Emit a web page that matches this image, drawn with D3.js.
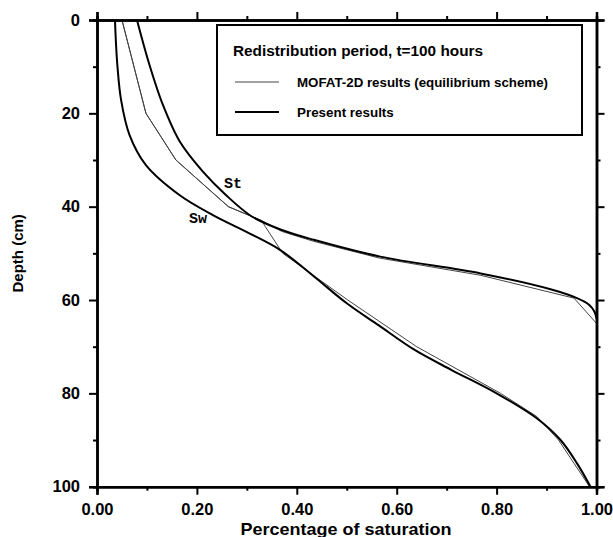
<!DOCTYPE html>
<html><head><meta charset="utf-8">
<script src="https://cdn.jsdelivr.net/npm/d3@7"></script>
<style>body{margin:0;background:#fff}svg{display:block}</style>
</head><body>
<svg id="chart" width="613" height="537"></svg>
<script>
// Data: [depth (cm), saturation]
const presentSw = [[0,0.036],[5,0.038],[10,0.041],[17,0.048],[24.6,0.065],[31.1,0.098],[37.5,0.165],[41.8,0.232],[45.7,0.305],[49.3,0.367],[55,0.435],[60.7,0.50],[65.5,0.565],[70.7,0.636],[75,0.71],[80,0.80],[85.4,0.881],[90,0.928],[95,0.961],[100,0.988]];
const presentSt = [[0,0.08],[9.6,0.105],[18.2,0.132],[26.1,0.166],[32.5,0.212],[37.5,0.258],[42.1,0.31],[45,0.37],[47.1,0.434],[50.7,0.567],[54.3,0.768],[57.7,0.908],[59.6,0.961],[61,0.985],[62.5,0.996],[64,1.0]];
const mofatSt = [[0,0.05],[20,0.098],[30,0.158],[40,0.263],[43,0.33],[45.3,0.37],[47.4,0.433],[51,0.565],[54.7,0.768],[59.6,0.955],[65,1.0]];
const mofatSw = [[0,0.05],[20,0.098],[30,0.158],[40,0.263],[43,0.33],[44.3,0.337],[50,0.372],[60,0.502],[70,0.64],[80,0.808],[85,0.881],[90,0.924],[95,0.955],[100,0.986]];
const xTicks = [0,0.2,0.4,0.6,0.8,1.0];
const xMinor = [0.1,0.3,0.5,0.7,0.9];
const yTicks = [0,20,40,60,80,100];
const yMinor = [10,30,50,70,90];
const legendTitle = "Redistribution period, t=100 hours";
const legendItems = ["MOFAT-2D results (equilibrium scheme)","Present results"];

const svg = d3.select("#chart");
const L=97, R=596.5, T=20, B=486.7;
const x = d3.scaleLinear().domain([0,1]).range([L,R]);
const y = d3.scaleLinear().domain([0,100]).range([T,B]);
const font = "'Liberation Sans', Arial, sans-serif";

// curves
const smooth = d3.line().x(d=>x(d[1])).y(d=>y(d[0])).curve(d3.curveCatmullRom.alpha(0.5));
const straight = d3.line().x(d=>x(d[1])).y(d=>y(d[0]));
const g = svg.append("g");
[mofatSt, mofatSw].forEach(s=>g.append("path").attr("d",straight(s)).attr("fill","none").attr("stroke","#444").attr("stroke-width",1));
[presentSt, presentSw].forEach(s=>g.append("path").attr("d",smooth(s)).attr("fill","none").attr("stroke","#000").attr("stroke-width",2));

// axes
function ax(gen, tr){ return svg.append("g").attr("transform",tr).call(gen); }
ax(d3.axisBottom(x).tickValues(xTicks).tickFormat(d3.format(".2f")).tickSize(8).tickPadding(9), `translate(0,${B})`);
ax(d3.axisBottom(x).tickValues(xMinor).tickFormat("").tickSize(4), `translate(0,${B})`);
ax(d3.axisTop(x).tickValues(xTicks).tickFormat("").tickSize(8), `translate(0,${T})`);
ax(d3.axisTop(x).tickValues(xMinor).tickFormat("").tickSize(4), `translate(0,${T})`);
ax(d3.axisLeft(y).tickValues(yTicks).tickFormat(d3.format("d")).tickSize(8).tickPadding(9), `translate(${L},0)`);
ax(d3.axisLeft(y).tickValues(yMinor).tickFormat("").tickSize(4), `translate(${L},0)`);
ax(d3.axisRight(y).tickValues(yTicks).tickFormat("").tickSize(8), `translate(${R},0)`);
ax(d3.axisRight(y).tickValues(yMinor).tickFormat("").tickSize(4), `translate(${R},0)`);
svg.selectAll(".domain").attr("stroke","#000").attr("stroke-width",2.5);
svg.selectAll(".tick line").attr("stroke","#000").attr("stroke-width",2);
svg.selectAll(".tick text").attr("font-family",font).attr("font-weight","bold").attr("font-size",16.5).attr("fill","#000");

// axis titles
svg.append("text").attr("x",346).attr("y",535).attr("text-anchor","middle")
  .attr("font-family",font).attr("font-weight","bold").attr("font-size",16.5)
  .attr("textLength",211).attr("lengthAdjust","spacingAndGlyphs").text("Percentage of saturation");
svg.append("text").attr("transform",`translate(23,${(T+B)/2}) rotate(-90)`).attr("text-anchor","middle")
  .attr("font-family",font).attr("font-weight","bold").attr("font-size",15).text("Depth (cm)");

// legend
svg.append("rect").attr("x",217).attr("y",25).attr("width",365).attr("height",110).attr("fill","#fff").attr("stroke","#000").attr("stroke-width",2);
svg.append("text").attr("x",233).attr("y",56).attr("font-family",font).attr("font-weight","bold").attr("font-size",14.5)
  .attr("textLength",250).attr("lengthAdjust","spacingAndGlyphs").text(legendTitle);
legendItems.forEach((t,i)=>{
  const yy = 82 + i*30;
  svg.append("line").attr("x1",235).attr("x2",279).attr("y1",yy).attr("y2",yy)
    .attr("stroke", i===0?"#444":"#000").attr("stroke-width", i===0?1:2);
  const tx = svg.append("text").attr("x",297).attr("y",yy+5).attr("font-family",font).attr("font-weight","bold").attr("font-size",13.4).text(t);
  if(i===0) tx.attr("textLength",251).attr("lengthAdjust","spacingAndGlyphs");
});

// curve labels
svg.append("text").attr("x",224).attr("y",188).attr("font-family","'Liberation Mono', monospace").attr("font-weight","bold").attr("font-size",15).text("St");
svg.append("text").attr("x",189).attr("y",223).attr("font-family","'Liberation Mono', monospace").attr("font-weight","bold").attr("font-size",15).text("Sw");
</script>
</body></html>
